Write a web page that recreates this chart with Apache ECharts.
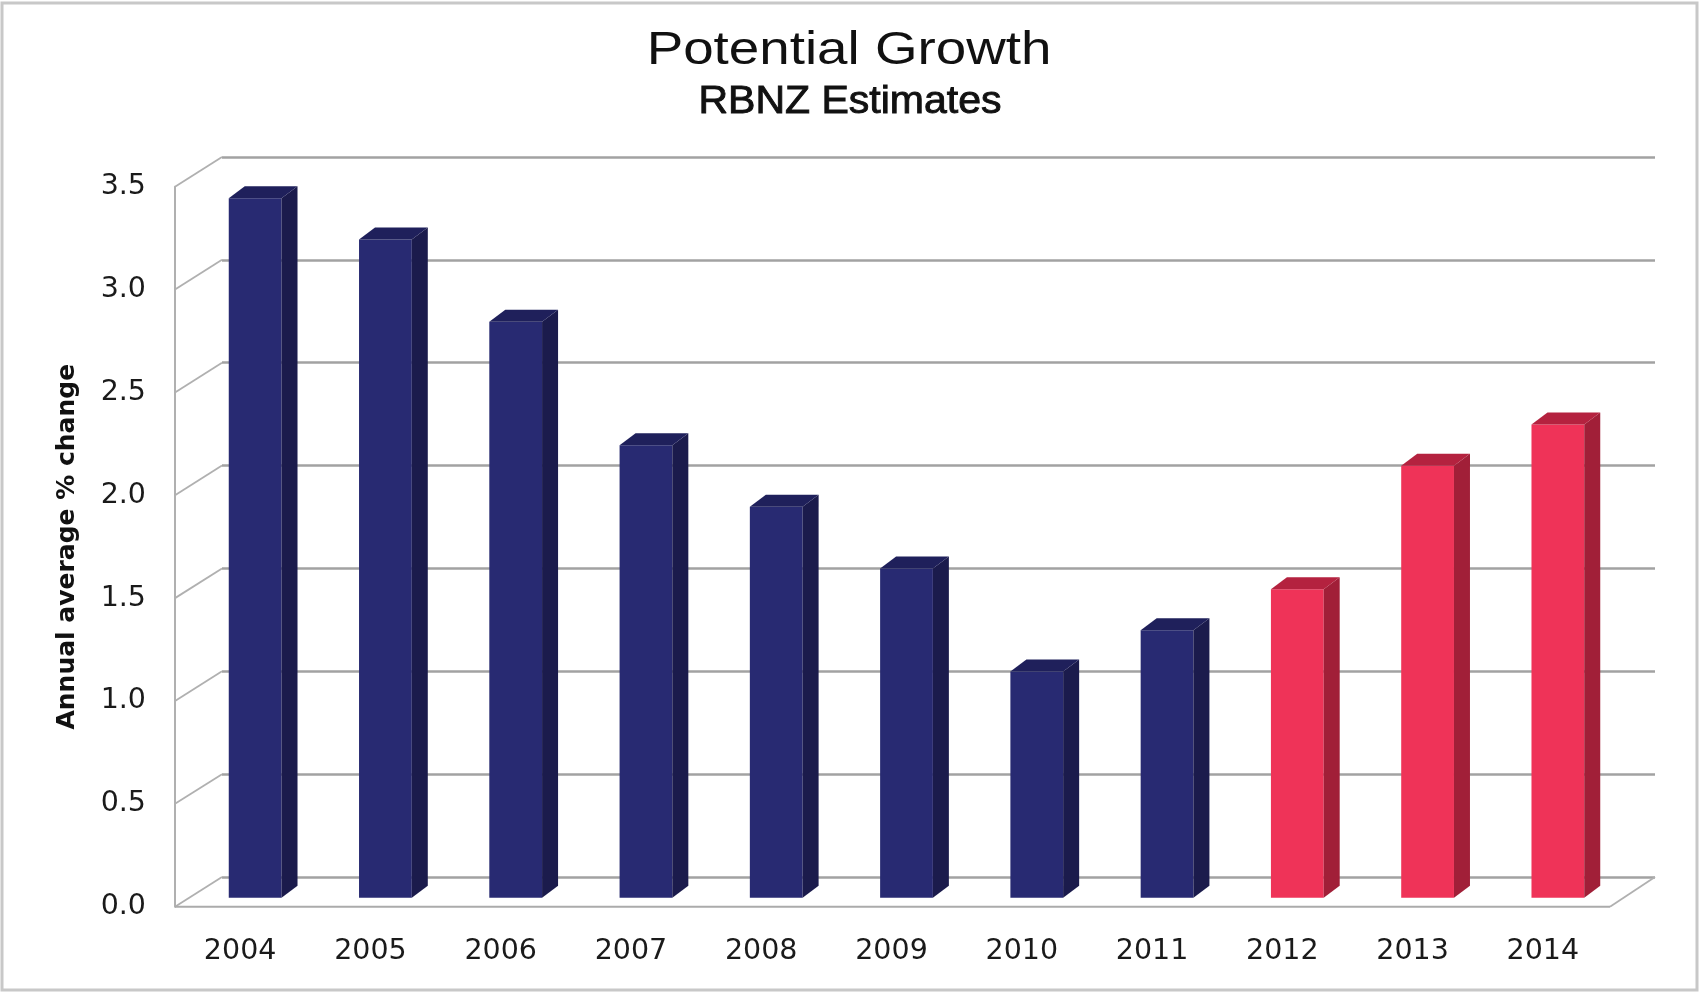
<!DOCTYPE html>
<html>
<head>
<meta charset="utf-8">
<script src="https://cdn.jsdelivr.net/npm/echarts@6/dist/echarts.min.js"></script>
<style>
html,body{margin:0;padding:0;background:#ffffff;}
#chart{width:1700px;height:993px;}
</style>
</head>
<body>
<div id="chart"></div>
<script>
// ---- data ----
const categories = ['2004','2005','2006','2007','2008','2009','2010','2011','2012','2013','2014'];
const actualValues   = [3.4, 3.2, 2.8, 2.2, 1.9, 1.6, 1.1, 1.3, null, null, null];
const estimateValues = [null, null, null, null, null, null, null, null, 1.5, 2.1, 2.3];
const yTicks = [0, 0.5, 1.0, 1.5, 2.0, 2.5, 3.0, 3.5];
const titleText = 'Potential Growth';
const subtitleText = 'RBNZ Estimates';
const yAxisName = 'Annual average % change';

// ---- 3D look (styles only) ----
const DX = 47, DY = -29.7;        // wall depth offset
const BX = 15, BY = -9;           // bar front face offset from front plane
const SX = 16, SY = -12;          // bar depth
const BAR_FRAC = 0.405;

const navy = {front:'#282a72', side:'#1b1b4c', top:'#1f205b'};
const red  = {front:'#ef3358', side:'#a11f38', top:'#b4223f'};

function toPairs(arr){
  const out = [];
  arr.forEach((v,i)=>{ if(v !== null && v !== undefined) out.push([i, v]); });
  return out;
}

function barRenderer(colors){
  return function(params, api){
    const v = api.value(1);
    const top = api.coord([api.value(0), v]);
    const base = api.coord([api.value(0), 0]);
    const w = api.size([1, 0])[0] * BAR_FRAC;
    const x0 = top[0] + BX - w/2, x1 = x0 + w;
    const yT = top[1] + BY, yB = base[1] + BY;
    return {
      type:'group',
      children:[
        {type:'rect', shape:{x:x0, y:yT, width:w, height:yB-yT}, style:{fill:colors.front}},
        {type:'polygon', shape:{points:[[x1,yT],[x1+SX,yT+SY],[x1+SX,yB+SY],[x1,yB]]}, style:{fill:colors.side}},
        {type:'polygon', shape:{points:[[x0,yT],[x0+SX,yT+SY],[x1+SX,yT+SY],[x1,yT]]}, style:{fill:colors.top}}
      ]
    };
  };
}

function diagRenderer(params, api){
  const v = api.value(0);
  const cs = params.coordSys;
  const y = api.coord([0, v])[1];
  const x = cs.x;
  const children = [
    {type:'line', shape:{x1:x, y1:y, x2:x+DX, y2:y+DY}, style:{stroke:'#b0b0b0', lineWidth:1.8}}
  ];
  if (v === 0) {
    const xr = cs.x + cs.width + 2;
    children.push({type:'line', shape:{x1:x, y1:y, x2:xr, y2:y}, style:{stroke:'#ababab', lineWidth:2}});
    children.push({type:'line', shape:{x1:xr, y1:y, x2:xr+DX-2, y2:y+DY}, style:{stroke:'#b0b0b0', lineWidth:1.8}});
  }
  return {type:'group', children};
}

const chart = echarts.init(document.getElementById('chart'));
const labelFont = '"DejaVu Sans", sans-serif';

chart.setOption({
  backgroundColor:'#ffffff',
  animation:false,
  graphic:[
    {type:'rect', silent:true, z:-10, shape:{x:2, y:3, width:1695, height:987},
     style:{fill:'none', stroke:'#c8c8c8', lineWidth:3}},
    {type:'text', x:849, y:51, scaleX:1.19, style:{text:titleText, x:0, y:0, align:'center', verticalAlign:'middle',
      fontSize:46, fontFamily:'"Liberation Sans", Arial, sans-serif', fill:'#111111'}},
    {type:'text', x:850, y:102, scaleX:1.065, style:{text:subtitleText, x:0, y:0, align:'center', verticalAlign:'middle',
      fontSize:38.5, fontFamily:'"Liberation Sans", Arial, sans-serif', fill:'#111111', stroke:'#111111', lineWidth:0.9}}
  ],
  grid:[
    {left:175, top:186.7, width:1433, height:720},
    {left:222, top:157, width:1433, height:720}
  ],
  xAxis:[
    {type:'category', gridIndex:0, data:categories, boundaryGap:true,
     axisLine:{show:false}, axisTick:{show:false}, splitLine:{show:false},
     axisLabel:{margin:30, fontSize:28.5, fontFamily:labelFont, color:'#1a1a1a'}},
    {type:'category', gridIndex:1, data:categories, boundaryGap:true, show:false}
  ],
  yAxis:[
    {type:'value', gridIndex:0, min:0, max:3.5, interval:0.5,
     axisLine:{show:true, lineStyle:{color:'#b0b0b0', width:2}}, axisTick:{show:false},
     splitLine:{show:false},
     axisLabel:{margin:29, fontSize:28.5, fontFamily:labelFont, color:'#1a1a1a', formatter:(v)=>v.toFixed(1)},
     name:yAxisName, nameLocation:'middle', nameRotate:90, nameGap:95,
     nameTextStyle:{fontSize:25, fontWeight:'bold', fontFamily:'"DejaVu Sans", sans-serif', color:'#111111'}},
    {type:'value', gridIndex:1, min:0, max:3.5, interval:0.5,
     axisLine:{show:false}, axisTick:{show:false}, axisLabel:{show:false},
     splitLine:{show:true, lineStyle:{color:'#a2a2a2', width:2.6}}}
  ],
  series:[
    {type:'custom', name:'axes', xAxisIndex:0, yAxisIndex:0, z:1, silent:true,
     data:yTicks.map(v=>[v]), encode:{y:0}, renderItem:diagRenderer},
    {type:'custom', name:'Actual', xAxisIndex:0, yAxisIndex:0, z:3,
     data:toPairs(actualValues), encode:{x:0, y:1}, renderItem:barRenderer(navy)},
    {type:'custom', name:'Estimate', xAxisIndex:0, yAxisIndex:0, z:3,
     data:toPairs(estimateValues), encode:{x:0, y:1}, renderItem:barRenderer(red)}
  ]
});
</script>
</body>
</html>
